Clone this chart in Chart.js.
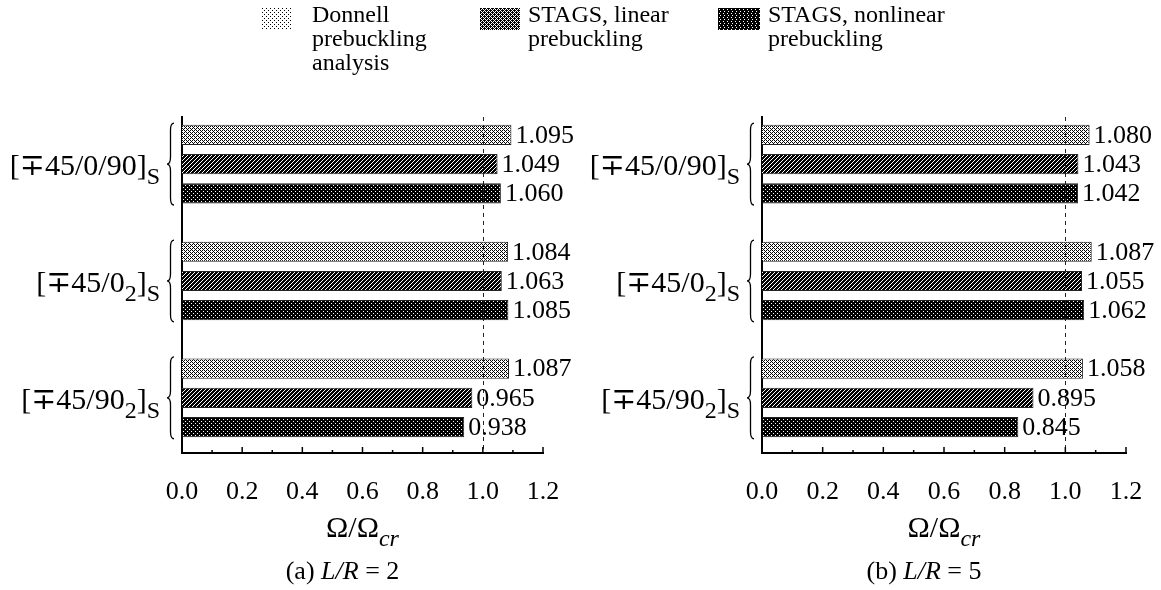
<!DOCTYPE html>
<html>
<head>
<meta charset="utf-8">
<script src="https://cdn.jsdelivr.net/npm/chart.js@4.4.1/dist/chart.umd.min.js"></script>
<style>
  body { margin: 0; background: #fff; }
  #wrap { position: relative; width: 1161px; height: 590px; font-family: "Liberation Serif", "DejaVu Serif", serif; color: #000; }
  #left { position: absolute; left: 0; top: 0; }
  #right { position: absolute; left: 580px; top: 0; }
  .leg { position: absolute; top: 2px; font-size: 24px; line-height: 24px; }
  .leg canvas { position: absolute; left: 0; top: 6px; }
  .leg div { position: absolute; top: 0; white-space: nowrap; }
</style>
</head>
<body>
<div id="wrap">
  <canvas id="left" width="580" height="590"></canvas>
  <canvas id="right" width="581" height="590"></canvas>
</div>
<script>
// data
const layups = ['[∓45/0/90]_S', '[∓45/0_2]_S', '[∓45/90_2]_S'];
const seriesNames = [['Donnell', 'prebuckling', 'analysis'], ['STAGS, linear', 'prebuckling'], ['STAGS, nonlinear', 'prebuckling']];
const donnellA = [1.095, 1.084, 1.087];
const linearA = [1.049, 1.063, 0.965];
const nonlinearA = [1.060, 1.085, 0.938];
const donnellB = [1.080, 1.087, 1.058];
const linearB = [1.043, 1.055, 0.895];
const nonlinearB = [1.042, 1.062, 0.845];
const xTicks = [0, 0.2, 0.4, 0.6, 0.8, 1.0, 1.2];
const refLine = 1.0;
const xTitle = 'Ω/Ω*_{cr}*';
const captions = ['(a) *L/R* = 2', '(b) *L/R* = 5'];

const FONT = '"Liberation Serif", "DejaVu Serif", serif';

// halftone-ish fills
function makePattern(rows) {
  const c = document.createElement('canvas');
  c.width = rows[0].length; c.height = rows.length;
  const g = c.getContext('2d');
  g.fillStyle = '#fff'; g.fillRect(0, 0, c.width, c.height);
  g.fillStyle = '#000';
  rows.forEach((r, y) => [...r].forEach((ch, x) => { if (ch === '1') g.fillRect(x, y, 1, 1); }));
  return g.createPattern(c, 'repeat');
}
const barFills = [
  makePattern(['1010', '0001', '1010', '0100']),
  makePattern(['1101', '1011', '0111', '1110']),
  makePattern(['1111', '1011', '1111', '1110'])
];
const legendFills = [
  makePattern(['1000', '0000', '0010', '0000']),
  makePattern(['1101', '1010', '0111', '1010']),
  makePattern(['1111', '1011', '1111', '1101'])
];

// tiny markup: _x or _{xy} = subscript, *...* = italic
function parseRich(s) {
  const parts = [];
  let buf = '', it = false, i = 0;
  const push = () => { if (buf) parts.push({ t: buf, sub: false, it }); buf = ''; };
  while (i < s.length) {
    const ch = s[i];
    if (ch === '*') { push(); it = !it; i++; }
    else if (ch === '_') {
      push();
      let t;
      if (s[i + 1] === '{') { const j = s.indexOf('}', i); t = s.slice(i + 2, j); i = j + 1; }
      else { t = s[i + 1]; i += 2; }
      parts.push({ t, sub: true, it });
    } else { buf += ch; i++; }
  }
  push();
  return parts;
}

function drawRich(ctx, s, x, baseY, size, align) {
  const parts = parseRich(s);
  const fontOf = p => (p.it ? 'italic ' : '') + (p.sub ? Math.round(size * 0.8) : size) + 'px ' + FONT;
  let total = 0;
  parts.forEach(p => { ctx.font = fontOf(p); p.w = ctx.measureText(p.t).width; total += p.w; });
  let cx = align === 'right' ? x - total : align === 'center' ? x - total / 2 : x;
  ctx.textAlign = 'left';
  ctx.textBaseline = 'alphabetic';
  parts.forEach(p => {
    ctx.font = fontOf(p);
    ctx.fillText(p.t, cx, baseY + (p.sub ? size * 0.3 : 0));
    cx += p.w;
  });
}

function drawBrace(ctx, x, y0, y1, w) {
  const ym = (y0 + y1) / 2;
  ctx.beginPath();
  ctx.moveTo(x + w, y0);
  ctx.quadraticCurveTo(x + w / 2, y0, x + w / 2, y0 + w);
  ctx.lineTo(x + w / 2, ym - w);
  ctx.quadraticCurveTo(x + w / 2, ym, x, ym);
  ctx.quadraticCurveTo(x + w / 2, ym, x + w / 2, ym + w);
  ctx.lineTo(x + w / 2, y1 - w);
  ctx.quadraticCurveTo(x + w / 2, y1, x + w, y1);
  ctx.stroke();
}

const panelDecor = {
  id: 'panelDecor',
  afterDatasetsDraw(chart) {
    const { ctx, chartArea: a, scales: { x } } = chart;
    ctx.save();
    // dashed reference line
    ctx.strokeStyle = '#222';
    ctx.lineWidth = 1;
    ctx.setLineDash([4, 4]);
    const xr = Math.round(x.getPixelForValue(refLine)) + 0.5;
    ctx.beginPath(); ctx.moveTo(xr, a.top); ctx.lineTo(xr, a.bottom); ctx.stroke();
    ctx.setLineDash([]);
    // value labels
    ctx.fillStyle = '#000';
    ctx.font = '26px ' + FONT;
    ctx.textAlign = 'left';
    ctx.textBaseline = 'middle';
    chart.data.datasets.forEach((ds, di) => {
      chart.getDatasetMeta(di).data.forEach((bar, i) => {
        ctx.fillText(ds.data[i].x.toFixed(3), bar.x + 4, bar.y + 1);
      });
    });
    ctx.restore();
  },
  afterDraw(chart) {
    const { ctx, chartArea: a, scales: { x, y } } = chart;
    const opts = chart.options.plugins.panelDecor;
    ctx.save();
    ctx.strokeStyle = '#000';
    ctx.fillStyle = '#000';
    // inward ticks, major and minor
    ctx.lineWidth = 1.5;
    x.ticks.forEach((t, i) => {
      const px = x.getPixelForValue(t.value);
      ctx.beginPath(); ctx.moveTo(px, a.bottom); ctx.lineTo(px, a.bottom - 6); ctx.stroke();
      if (i < x.ticks.length - 1) {
        const mx = x.getPixelForValue((t.value + x.ticks[i + 1].value) / 2);
        ctx.beginPath(); ctx.moveTo(mx, a.bottom); ctx.lineTo(mx, a.bottom - 3); ctx.stroke();
      }
    });
    // layup labels with braces
    ctx.lineWidth = 1.3;
    layups.forEach((lab, i) => {
      const yc = y.getPixelForValue(i);
      const top = y.getPixelForValue(i - 0.35);
      const bot = y.getPixelForValue(i + 0.35);
      drawBrace(ctx, a.left - 15, top, bot, 7);
      drawRich(ctx, lab, a.left - 22, yc + 11, 30, 'right');
    });
    // axis title and caption
    const cx = (a.left + a.right) / 2;
    drawRich(ctx, xTitle, cx, a.bottom + 84, 30, 'center');
    drawRich(ctx, opts.caption, cx - 20, a.bottom + 126, 26, 'center');
    ctx.restore();
  }
};

function makePanel(id, series, caption, padRight) {
  return new Chart(document.getElementById(id), {
    type: 'bar',
    data: {
      datasets: series.map((vals, s) => ({
        label: seriesNames[s].join(' '),
        data: vals.map((v, i) => ({ x: v, y: i })),
        backgroundColor: barFills[s],
        borderColor: '#222',
        borderWidth: 1,
        categoryPercentage: 0.75,
        barPercentage: 0.69
      }))
    },
    options: {
      indexAxis: 'y',
      responsive: false,
      animation: false,
      layout: { padding: { left: 182, right: padRight, top: 117, bottom: 0 } },
      plugins: {
        legend: { display: false },
        tooltip: { enabled: false },
        panelDecor: { caption }
      },
      scales: {
        x: {
          type: 'linear', min: 0, max: 1.2,
          afterBuildTicks: s => { s.ticks = xTicks.map(v => ({ value: v })); },
          ticks: { callback: v => v.toFixed(1), font: { family: FONT, size: 26 }, color: '#000', padding: 16 },
          grid: { display: false },
          border: { display: true, color: '#000', width: 2 },
          afterFit: s => { s.height = 137; }
        },
        y: {
          type: 'linear', reverse: true, offset: false, min: -0.403, max: 2.472,
          afterBuildTicks: s => { s.ticks = layups.map((_, i) => ({ value: i })); },
          ticks: { display: false },
          grid: { display: false, offset: false },
          border: { display: true, color: '#000', width: 2 },
          afterFit: s => { s.width = 0; }
        }
      }
    },
    plugins: [panelDecor]
  });
}

makePanel('left', [donnellA, linearA, nonlinearA], captions[0], 37);
makePanel('right', [donnellB, linearB, nonlinearB], captions[1], 35);

// legend across the top
const legendX = [262, 480, 718];
const swatchW = [30, 40, 42];
const textGap = [20, 8, 8];
const wrap = document.getElementById('wrap');
seriesNames.forEach((lines, s) => {
  const item = document.createElement('div');
  item.className = 'leg';
  item.style.left = legendX[s] + 'px';
  const sw = document.createElement('canvas');
  sw.width = swatchW[s]; sw.height = 22;
  const g = sw.getContext('2d');
  g.fillStyle = legendFills[s];
  g.fillRect(0, 0, sw.width, sw.height);
  item.appendChild(sw);
  const txt = document.createElement('div');
  txt.style.left = (swatchW[s] + textGap[s]) + 'px';
  txt.innerHTML = lines.join('<br>');
  item.appendChild(txt);
  wrap.appendChild(item);
});
</script>
</body>
</html>
